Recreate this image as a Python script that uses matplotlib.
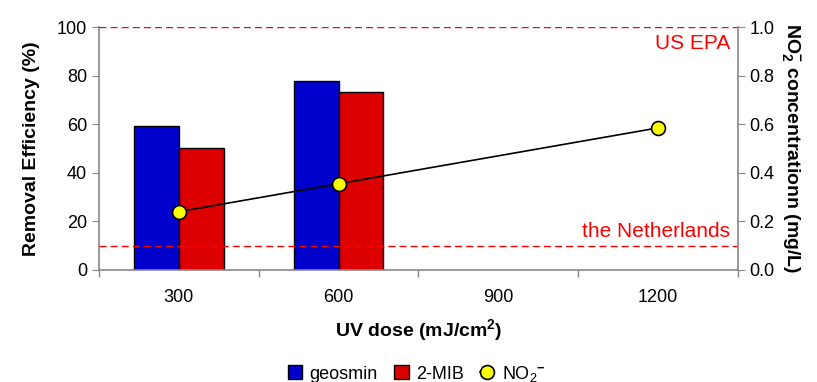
import numpy as np
import matplotlib
matplotlib.use("Agg")
import matplotlib.pyplot as plt
from matplotlib.ticker import FixedLocator, NullFormatter, FormatStrFormatter

plt.rcParams['font.family'] = ['Liberation Sans', 'DejaVu Sans']
plt.rcParams['mathtext.fontset'] = 'custom'
plt.rcParams['mathtext.rm'] = 'Liberation Sans'
plt.rcParams['mathtext.it'] = 'Liberation Sans:italic'
plt.rcParams['mathtext.bf'] = 'Liberation Sans:bold'

# data
doses = ['300', '600', '900', '1200']
geosmin = [59.3, 77.8, np.nan, np.nan]
mib = [50.2, 73.3, np.nan, np.nan]
no2_idx = [0, 1, 3]
no2 = [0.24, 0.355, 0.585]
us_epa = 1.0
netherlands = 0.1

def main():
    fig = plt.figure(figsize=(8.17, 3.82), dpi=100)
    ax = fig.add_axes([0.1212, 0.2932, 0.7818, 0.6358])
    x = np.arange(len(doses))
    w = 0.28

    ax.bar(x - w / 2, geosmin, w, color='#0000cc', edgecolor='black', linewidth=1, label='geosmin', zorder=2)
    ax.bar(x + w / 2, mib, w, color='#dd0000', edgecolor='black', linewidth=1, label='2-MIB', zorder=2)

    ax.set_xlim(-0.5, len(doses) - 0.5)
    ax.set_ylim(0, 100)
    ax.set_yticks(np.arange(0, 101, 20))
    ax.set_xticks(x)
    ax.set_xticklabels(doses)
    ax.xaxis.set_minor_locator(FixedLocator(np.arange(-0.5, len(doses), 1.0)))
    ax.xaxis.set_minor_formatter(NullFormatter())
    ax.tick_params(axis='x', which='major', length=0, pad=14, labelsize=13)
    ax.tick_params(axis='x', which='minor', length=5, color='#888888', width=1)
    ax.tick_params(axis='y', length=5, color='#888888', labelsize=13)
    for s in ['top', 'right']:
        ax.spines[s].set_visible(False)
    for s in ['left', 'bottom']:
        ax.spines[s].set_color('#888888')
        ax.spines[s].set_linewidth(1.2)

    ax.set_ylabel('Removal Efficiency (%)', fontsize=14, fontweight='bold', labelpad=12)
    ax.set_xlabel(r'UV dose (mJ/cm$^\mathbf{2}$)', fontsize=14, fontweight='bold', labelpad=8)

    ax2 = ax.twinx()
    ax2.set_ylim(0, 1.0)
    ax2.set_yticks(np.arange(0, 1.01, 0.2))
    ax2.yaxis.set_major_formatter(FormatStrFormatter('%.1f'))
    ax2.tick_params(axis='y', length=5, color='#888888', labelsize=13)
    for s in ['top', 'left', 'bottom']:
        ax2.spines[s].set_visible(False)
    ax2.spines['right'].set_color('#888888')
    ax2.spines['right'].set_linewidth(1.2)

    ax2.axhline(us_epa, color='red', linestyle=(0, (5, 3)), linewidth=1, zorder=1)
    ax2.axhline(netherlands, color='red', linestyle=(0, (5, 3)), linewidth=1, zorder=1)
    ax2.text(3.45, us_epa - 0.03, 'US EPA', color='red', fontsize=15, ha='right', va='top')
    ax2.text(3.45, netherlands + 0.02, 'the Netherlands', color='red', fontsize=15, ha='right', va='bottom')

    ax2.plot(no2_idx, no2, color='black', linewidth=1.2, marker='o', markersize=10,
             markerfacecolor='#ffff00', markeredgecolor='black', markeredgewidth=1.2,
             label=r'NO$_2$$^{\mathbf{-}}$', zorder=3)
    ax2.set_ylabel(r'NO$_\mathbf{2}^\mathbf{-}$ concentrationn (mg/L)', fontsize=14,
                   fontweight='bold', rotation=270, labelpad=20)

    h1, l1 = ax.get_legend_handles_labels()
    h2, l2 = ax2.get_legend_handles_labels()
    fig.legend(h1 + h2, l1 + l2, loc='center', bbox_to_anchor=(0.51, 0.022), ncol=3,
               frameon=False, fontsize=13, handlelength=0.8, handleheight=0.8,
               handletextpad=0.4, columnspacing=0.9)

    fig.savefig('out.png', dpi=100)

if __name__ == '__main__':
    main()
